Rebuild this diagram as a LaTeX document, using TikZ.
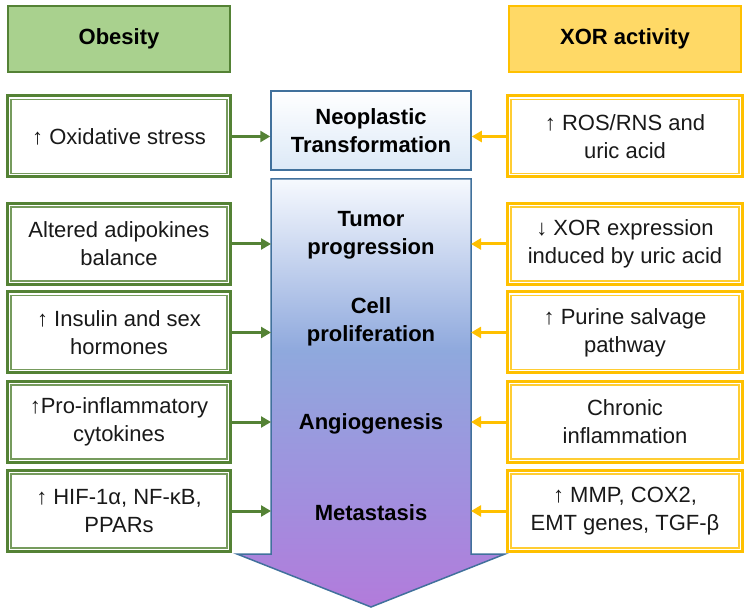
\documentclass[tikz,border=0pt]{standalone}
\usepackage{fontspec}
\setmainfont{Liberation Sans}
\usetikzlibrary{arrows.meta}
\definecolor{gD}{HTML}{548235}
\definecolor{gF}{HTML}{A9D18E}
\definecolor{yD}{HTML}{FFC000}
\definecolor{yF}{HTML}{FFD966}
\definecolor{bD}{HTML}{41719C}
\definecolor{nF}{HTML}{DCE9F7}
\definecolor{aTop}{HTML}{F6F9FE}
\definecolor{aMid}{HTML}{8FA9DD}
\definecolor{aLow}{HTML}{A18FDE}
\definecolor{aBot}{HTML}{B27BDB}
\pgfdeclareverticalshading{bigarrow}{100bp}{color(0bp)=(aBot); color(25bp)=(aBot); color(38bp)=(aLow); color(55bp)=(aMid); color(75bp)=(aTop); color(100bp)=(aTop)}
\tikzset{
  dbox/.style={draw=#1, line width=3pt, fill=white,
    path picture={\draw[#1!80, line width=1.3pt]
      ([shift={(3.4pt,3.4pt)}]path picture bounding box.south west) rectangle
      ([shift={(-3.4pt,-3.4pt)}]path picture bounding box.north east);}},
  txt/.style={font=\fontsize{22}{28}\selectfont, text=black!90, align=center},
  hd/.style={font=\fontsize{22}{28}\selectfont\bfseries, text=black, align=center},
  lbox/.style={dbox=gD, minimum width=223pt, minimum height=81pt, txt},
  rbox/.style={dbox=yD, minimum width=235pt, minimum height=81pt, txt},
  garr/.style={draw=gD, line width=3pt, -{Triangle[length=10pt,width=11pt]}},
  yarr/.style={draw=yD, line width=3pt, -{Triangle[length=10pt,width=11pt]}},
}
\begin{document}
\begin{tikzpicture}[x=1pt,y=-1pt]
\useasboundingbox (0,0) rectangle (750,612);

% headers
\node[hd, draw=gD, fill=gF, line width=2pt, minimum width=222pt, minimum height=66pt] (HL) at (119,39) {Obesity};
\node[hd, draw=yD, fill=yF, line width=2pt, minimum width=232pt, minimum height=66pt] (HR) at (625,39) {XOR activity};

% big arrow
\shade[shading=bigarrow, draw=bD, line width=1.5pt, line join=miter]
  (271,179) -- (471,179) -- (471,554) -- (505,554) -- (371,607) -- (237,554) -- (271,554) -- cycle;
\coordinate (bodyW) at (271,400);
\coordinate (bodyE) at (471,400);

% neoplastic box
\node[hd, draw=bD, line width=1.5pt, top color=white, bottom color=nF, minimum width=200pt, minimum height=79pt] (N) at (371,130.5) {Neoplastic\\Transformation};

% arrow labels
\node[hd] (T2) at (371,235.5) {Tumor\\progression};
\node[hd] (T3) at (371,322) {Cell\\proliferation};
\node[hd] (T4) at (371,424) {Angiogenesis};
\node[hd] (T5) at (371,513) {Metastasis};

% left boxes
\node[lbox] (L1) at (119,136.5) {↑ Oxidative stress};
\node[lbox] (L2) at (119,244) {Altered adipokines\\balance};
\node[lbox] (L3) at (119,332.5) {↑ Insulin and sex\\hormones};
\node[lbox] (L4) at (119,422) {↑Pro-inflammatory\\cytokines};
\node[lbox] (L5) at (119,511) {↑ HIF-1α, NF-κB,\\PPARs};

% right boxes
\node[rbox] (R1) at (625,136.5) {↑ ROS/RNS and\\uric acid};
\node[rbox] (R2) at (625,244) {↓ XOR expression\\induced by uric acid};
\node[rbox] (R3) at (625,332.5) {↑ Purine salvage\\pathway};
\node[rbox] (R4) at (625,422) {Chronic\\inflammation};
\node[rbox] (R5) at (625,511) {↑ MMP, COX2,\\EMT genes, TGF-β};

% connectors
\draw[garr] (L1.east) -- (L1.east -| N.west);
\draw[garr] (L2.east) -- (L2.east -| bodyW);
\draw[garr] (L3.east) -- (L3.east -| bodyW);
\draw[garr] (L4.east) -- (L4.east -| bodyW);
\draw[garr] (L5.east) -- (L5.east -| bodyW);
\draw[yarr] (R1.west) -- (R1.west -| N.east);
\draw[yarr] (R2.west) -- (R2.west -| bodyE);
\draw[yarr] (R3.west) -- (R3.west -| bodyE);
\draw[yarr] (R4.west) -- (R4.west -| bodyE);
\draw[yarr] (R5.west) -- (R5.west -| bodyE);
\end{tikzpicture}
\end{document}
